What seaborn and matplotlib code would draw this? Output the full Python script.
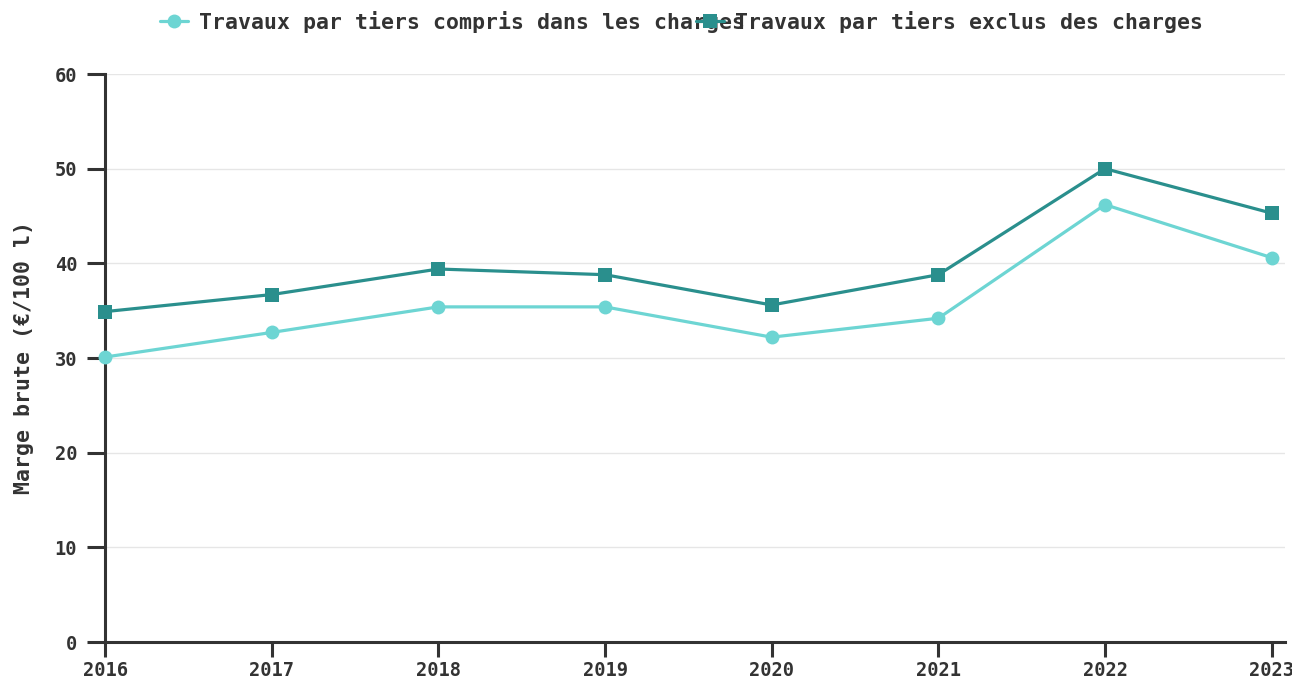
import matplotlib
matplotlib.use("Agg")
import matplotlib.pyplot as plt
import pandas as pd
import seaborn as sns

years = [2016, 2017, 2018, 2019, 2020, 2021, 2022, 2023]
compris = [30.1, 32.7, 35.4, 35.4, 32.2, 34.2, 46.2, 40.6]
exclus = [34.9, 36.7, 39.4, 38.8, 35.6, 38.8, 50.0, 45.3]

label_compris = "Travaux par tiers compris dans les charges"
label_exclus = "Travaux par tiers exclus des charges"
colors = {label_compris: "#6dd5d3", label_exclus: "#2a8f8d"}

df = pd.concat([
    pd.DataFrame({"annee": years, "marge": compris, "serie": label_compris}),
    pd.DataFrame({"annee": years, "marge": exclus, "serie": label_exclus}),
], ignore_index=True)

sns.set_style("white")
plt.rcParams["font.family"] = ["DejaVu Sans Mono", "DejaVu Sans"]
plt.rcParams["font.weight"] = "bold"

fig = plt.figure(figsize=(12.92, 6.8), dpi=100)
ax = fig.add_axes([105 / 1292, 38 / 680, 1180 / 1292, 568 / 680])

sns.lineplot(
    data=df,
    x="annee",
    y="marge",
    hue="serie",
    style="serie",
    markers={label_compris: "o", label_exclus: "s"},
    dashes=False,
    palette=colors,
    linewidth=2.3,
    markersize=10,
    markeredgewidth=0,
    ax=ax,
)
# markers sit on top of the axis line, like the original
for line in ax.lines:
    line.set_clip_on(False)
    line.set_zorder(5)

ax.set_xlim(2016, 2023.08)
ax.set_ylim(0, 60)
ax.set_xticks(years)
ax.set_yticks(range(0, 61, 10))
ax.set_xlabel("")
ax.set_ylabel("Marge brute (€/100 l)", fontsize=15.5, fontweight="bold", color="#333333", labelpad=15)
ax.grid(axis="y", color="#e6e6e6", linewidth=1)
ax.grid(axis="x", visible=False)

for side in ["top", "right"]:
    ax.spines[side].set_visible(False)
for side in ["left", "bottom"]:
    ax.spines[side].set_color("#333333")
    ax.spines[side].set_linewidth(2.2)
ax.tick_params(axis="both", colors="#333333", width=2.2, labelsize=13.5,
               bottom=True, left=True)
ax.tick_params(axis="y", length=13, pad=7)
ax.tick_params(axis="x", length=11, pad=3)
for lbl in ax.get_xticklabels() + ax.get_yticklabels():
    lbl.set_fontweight("bold")

ax.legend(
    loc="center",
    bbox_to_anchor=(0.4886, 1.0915),
    ncol=2,
    frameon=False,
    fontsize=15.5,
    handlelength=1.3,
    handletextpad=0.5,
    columnspacing=-2.27,
    borderpad=0,
    labelcolor="#333333",
)

fig.savefig("out.png", dpi=100)
